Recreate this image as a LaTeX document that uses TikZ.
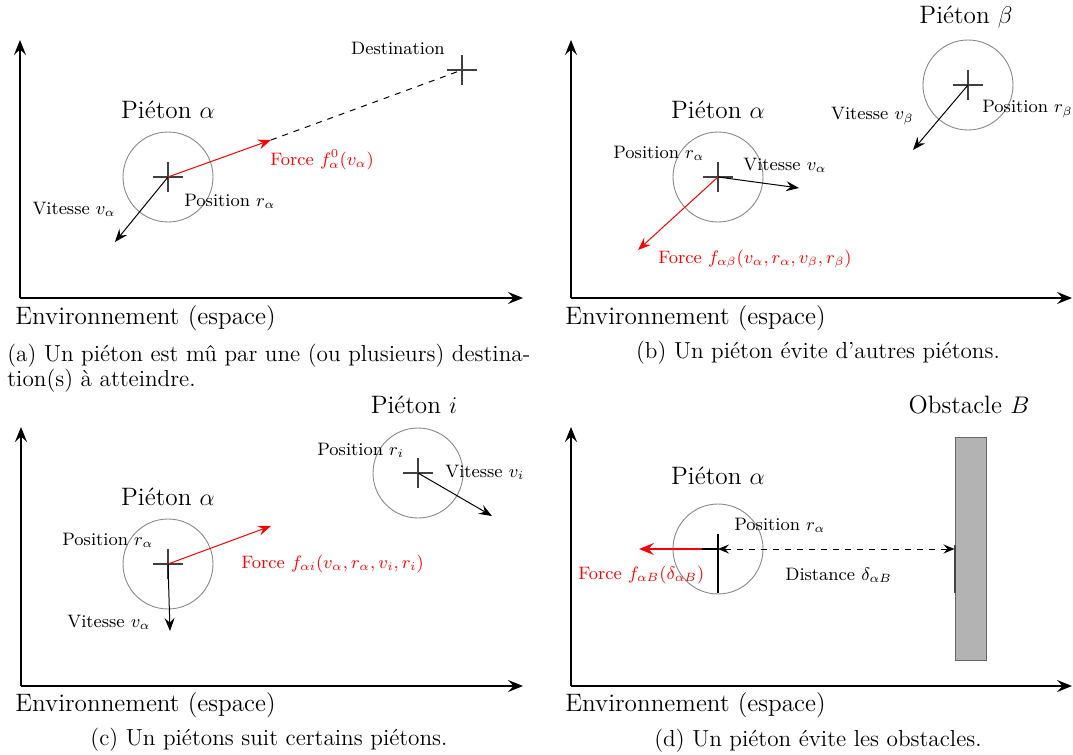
\documentclass[tikz,border=0pt]{standalone}
\usetikzlibrary{arrows.meta,calc}
\definecolor{circgray}{HTML}{888888}
\definecolor{crossgray}{HTML}{404040}
\definecolor{obsfill}{HTML}{B3B3B3}
\definecolor{obsedge}{HTML}{666666}
\definecolor{wallmark}{HTML}{444444}
\tikzset{
  axis/.style={line width=0.65pt, -{Stealth[length=7.5pt,width=6pt,inset=2.8pt]}},
  ped/.style={circle, draw=circgray, line width=0.45pt, minimum size=45pt, inner sep=0pt},
  crossln/.style={draw=crossgray, line width=0.6pt},
  vel/.style={line width=0.5pt, -{Stealth[length=6.5pt,width=5pt,inset=2.3pt]}},
  force/.style={red, line width=0.5pt, -{Stealth[length=6.5pt,width=5pt,inset=2.3pt]}},
  bigforce/.style={red, line width=1pt, -{Stealth[length=7.5pt,width=6pt,inset=2.8pt]}},
  dist/.style={dashed, line width=0.5pt, {Stealth[length=5.5pt,width=4.5pt,inset=2pt]}-{Stealth[length=5.5pt,width=4.5pt,inset=2pt]}},
  title/.style={inner sep=0pt, font=\fontsize{12.6}{14}\selectfont},
  lbl/.style={inner sep=0pt, font=\fontsize{9}{11}\selectfont},
  capt/.style={inner sep=0pt, font=\fontsize{11.6}{12.5}\selectfont},
  pcross/.pic={\draw[crossln] (-15,0) -- (15,0) (0,-15) -- (0,15);},
  obstacle/.style={draw=obsedge, fill=obsfill, line width=0.5pt, minimum width=15.5pt, minimum height=111.5pt, inner sep=0pt},
}
\begin{document}
\begin{tikzpicture}[x=0.5pt, y=-0.5pt]
\useasboundingbox (0,0) rectangle (1073,755);

% ---------- (a) destination ----------
\coordinate (oa) at (20,298);
\coordinate (ya) at (20,40);
\coordinate (xa) at (523,298);
\draw[axis] (oa) -- (ya);
\draw[axis] (oa) -- (xa);
\node[title, anchor=west] (enva) at (15,318) {Environnement (espace)};
\node[ped] (pa) at (168,177) {};
\pic at (pa.center) {pcross};
\coordinate (dest) at (462,70);
\pic at (dest) {pcross};
\coordinate (fa) at (271,140);
\coordinate (va) at (115,242);
\draw[dashed, line width=0.5pt] (fa) -- (dest);
\draw[force] (pa.center) -- (fa);
\draw[vel] (pa.center) -- (va);
\node[title] (ta) at (168,110) {Piéton $\alpha$};
\node[lbl, anchor=east] (ldest) at (445,48) {Destination};
\node[lbl, anchor=west, text=red] (lfa) at (270,160) {Force $f_\alpha^0(v_\alpha)$};
\node[lbl, anchor=west] (lpa) at (184,201) {Position $r_\alpha$};
\node[lbl, anchor=east] (lva) at (116,209) {Vitesse $v_\alpha$};
\node[capt, anchor=north west, align=left] (capa) at (7,344)
  {(a) Un piéton est mû par une (ou plusieurs) destina-\\tion(s) à atteindre.};

% ---------- (b) other pedestrians ----------
\coordinate (ob) at (571,298);
\coordinate (yb) at (571,40);
\coordinate (xb) at (1072,298);
\draw[axis] (ob) -- (yb);
\draw[axis] (ob) -- (xb);
\node[title, anchor=west] (envb) at (565,318) {Environnement (espace)};
\node[ped] (pb) at (718,177) {};
\pic at (pb.center) {pcross};
\node[ped] (pbeta) at (968,85) {};
\pic at (pbeta.center) {pcross};
\coordinate (vb) at (799,188);
\coordinate (fb) at (638,250);
\coordinate (vbeta) at (913,150);
\draw[vel] (pb.center) -- (vb);
\draw[force] (pb.center) -- (fb);
\draw[vel] (pbeta.center) -- (vbeta);
\node[title] (tb) at (718,110) {Piéton $\alpha$};
\node[title] (tbeta) at (966,17) {Piéton $\beta$};
\node[lbl, anchor=west] (lpb) at (613,153) {Position $r_\alpha$};
\node[lbl, anchor=west] (lvb) at (743,165) {Vitesse $v_\alpha$};
\node[lbl, anchor=west, text=red] (lfb) at (658,259) {Force $f_{\alpha\beta}(v_\alpha,r_\alpha,v_\beta,r_\beta)$};
\node[lbl, anchor=east] (lvbeta) at (914,116) {Vitesse $v_\beta$};
\node[lbl, anchor=west] (lpbeta) at (982,109) {Position $r_\beta$};
\node[capt] (capb) at (818,353) {(b) Un piéton évite d'autres piétons.};

% ---------- (c) following ----------
\coordinate (oc) at (21,686);
\coordinate (yc) at (21,427);
\coordinate (xc) at (523,686);
\draw[axis] (oc) -- (yc);
\draw[axis] (oc) -- (xc);
\node[title, anchor=west] (envc) at (15,705) {Environnement (espace)};
\node[ped] (pc) at (168,564) {};
\pic at (pc.center) {pcross};
\node[ped] (pi) at (418,473) {};
\pic at (pi.center) {pcross};
\coordinate (fc) at (271,526);
\coordinate (vc) at (170,631);
\coordinate (vi) at (492,516);
\draw[force] (pc.center) -- (fc);
\draw[vel] (pc.center) -- (vc);
\draw[vel] (pi.center) -- (vi);
\node[title] (tc) at (168,497) {Piéton $\alpha$};
\node[title] (ti) at (414,405) {Piéton $i$};
\node[lbl, anchor=west] (lpi) at (317,450) {Position $r_i$};
\node[lbl, anchor=west] (lvi) at (445,472) {Vitesse $v_i$};
\node[lbl, anchor=west] (lpc) at (62,540) {Position $r_\alpha$};
\node[lbl, anchor=west, text=red] (lfc) at (241,564) {Force $f_{\alpha i}(v_\alpha,r_\alpha,v_i,r_i)$};
\node[lbl, anchor=west] (lvc) at (67,622) {Vitesse $v_\alpha$};
\node[capt] (capc) at (269,740) {(c) Un piétons suit certains piétons.};

% ---------- (d) obstacles ----------
\coordinate (od) at (571,686);
\coordinate (yd) at (571,427);
\coordinate (xd) at (1072,686);
\draw[axis] (od) -- (yd);
\draw[axis] (od) -- (xd);
\node[title, anchor=west] (envd) at (565,705) {Environnement (espace)};
\node[obstacle] (obs) at (970.5,549) {};
\draw[wallmark, line width=1pt] (955,545) -- (955,593);
\node[ped] (pd) at (718,549) {};
\coordinate (fd) at (639,549);
\draw[bigforce] (pd.center) -- (fd);
\draw[line width=1pt] (702,549) -- (pd.center);
\draw[line width=0.6pt] (718,534) -- (718,593);
\draw[dist] (pd.center) -- (pd.center -| obs.west);
\node[title] (td) at (718,476) {Piéton $\alpha$};
\node[title] (tobs) at (969,405) {Obstacle $B$};
\node[lbl, anchor=west] (lpd) at (734,525) {Position $r_\alpha$};
\node[lbl, anchor=west, text=red] (lfd) at (578,575) {Force $f_{\alpha B}(\delta_{\alpha B})$};
\node[lbl, anchor=west] (ldd) at (785,575) {Distance $\delta_{\alpha B}$};
\node[capt] (capd) at (818,741) {(d) Un piéton évite les obstacles.};
\end{tikzpicture}
\end{document}
